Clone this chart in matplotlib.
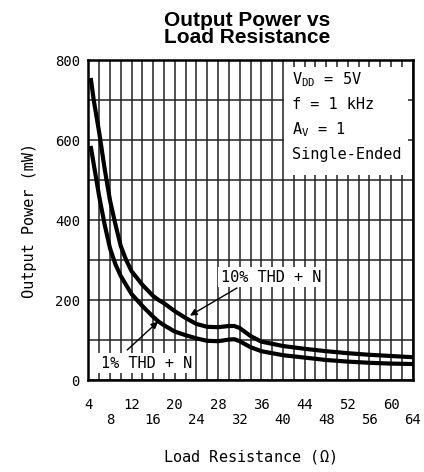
import numpy as np
import matplotlib
matplotlib.use("Agg")
import matplotlib.pyplot as plt
from matplotlib.patches import Rectangle

# curves (load resistance in ohms, output power in mW)
r_10 = [4.5, 5, 6, 7, 8, 9, 10, 11, 12, 14, 16, 17, 18, 20, 22, 24, 26, 28, 30, 31,
        32, 34, 36, 40, 44, 48, 52, 56, 60, 64]
p_10 = [750, 700, 620, 530, 450, 390, 335, 300, 272, 238, 210, 200, 192, 172, 155,
        140, 133, 132, 135, 135, 130, 110, 96, 85, 78, 72, 67, 63, 60, 57]

r_1 = [4.5, 5, 6, 7, 8, 9, 10, 12, 14, 16, 17, 18, 20, 22, 24, 26, 28, 30, 31, 32,
       34, 36, 40, 44, 48, 52, 56, 60, 64]
p_1 = [580, 540, 460, 390, 330, 290, 260, 215, 185, 158, 146, 137, 121, 112, 104,
       98, 97, 101, 102, 97, 82, 72, 62, 56, 50, 46, 43, 41, 40]

x_ticks = list(range(4, 65, 4))
x_labels = [str(v) if i % 2 == 0 else "\n" + str(v) for i, v in enumerate(x_ticks)]
y_ticks = [0, 200, 400, 600, 800]

conditions = ["$\\mathregular{V_{DD}}$ = 5V", "f = 1 kHz", "$\\mathregular{A_{V}}$ = 1", "Single-Ended"]

plt.rcParams["font.family"] = "DejaVu Sans Mono"
plt.rcParams["mathtext.fontset"] = "custom"
plt.rcParams["mathtext.rm"] = "DejaVu Sans Mono"

fig = plt.figure(figsize=(4.24, 4.72), dpi=100)
ax = fig.add_axes([88.3 / 424, 1 - 380 / 472, (412.7 - 88.3) / 424, 320 / 472])

ax.set_xlim(4, 64)
ax.set_ylim(0, 800)
ax.set_xticks(x_ticks)
ax.set_xticklabels(x_labels, fontsize=10, linespacing=1.05)
ax.set_xticks(np.arange(6, 64, 2), minor=True)
ax.set_yticks(y_ticks)
ax.set_yticklabels([str(v) for v in y_ticks], fontsize=10)
ax.set_yticks(np.arange(100, 800, 100), minor=True)
ax.tick_params(which="both", length=0)
ax.tick_params(axis="x", pad=13)
ax.tick_params(axis="y", pad=6)
ax.grid(which="both", color="#222222", linewidth=1.1)
ax.set_axisbelow(True)
for s in ax.spines.values():
    s.set_linewidth(1.8)

ax.plot(r_10, p_10, color="black", linewidth=3, zorder=3)
ax.plot(r_1, p_1, color="black", linewidth=3, zorder=3)

# white box with the test conditions
ax.add_patch(Rectangle((40.15, 512), 23.0, 270, facecolor="white", edgecolor="none", zorder=2))
for i, line in enumerate(conditions):
    ax.text(41.6, 750 - i * 62, line, fontsize=11, va="center", ha="left", zorder=4)

# curve labels and their arrows
ax.text(37.8, 257, "10% THD + N", fontsize=11, ha="center", va="center", zorder=4,
        bbox=dict(fc="white", ec="none", pad=2))
ax.text(14.8, 42, "1% THD + N", fontsize=11, ha="center", va="center", zorder=4,
        bbox=dict(fc="white", ec="none", pad=2))
ax.annotate("", xy=(22.8, 161), xytext=(31.5, 230), zorder=4,
            arrowprops=dict(arrowstyle="-|>", color="black", lw=1, shrinkA=0, shrinkB=0))
ax.annotate("", xy=(16.9, 146), xytext=(11.2, 75), zorder=4,
            arrowprops=dict(arrowstyle="-|>", color="black", lw=1, shrinkA=0, shrinkB=0))

fig.text(247 / 424, 1 - 29 / 472, "Output Power vs\nLoad Resistance", ha="center", va="center",
         fontsize=15, fontweight="bold", family="Liberation Sans", linespacing=0.85)
fig.text(250 / 424, 1 - 457 / 472, "Load Resistance ($\\mathregular{\\Omega}$)", ha="center",
         va="center", fontsize=11)
fig.text(30 / 424, 1 - 220 / 472, "Output Power (mW)", ha="center", va="center",
         rotation=90, fontsize=11)

fig.savefig("out.png", dpi=100)
